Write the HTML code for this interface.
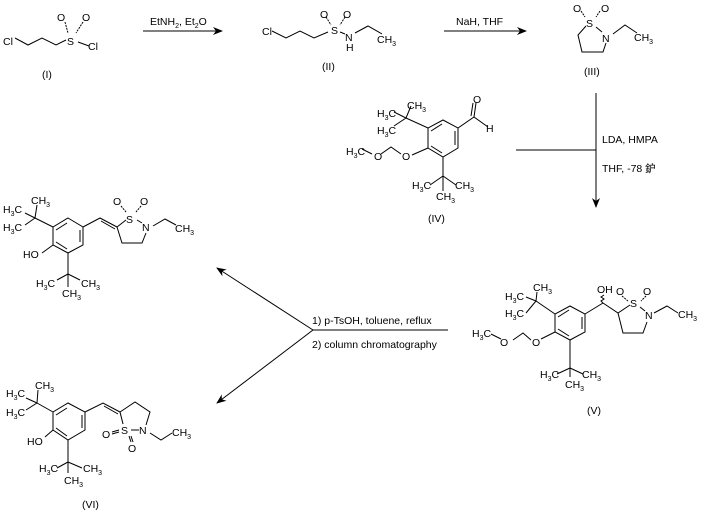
<!DOCTYPE html>
<html><head><meta charset="utf-8"><style>
html,body{margin:0;padding:0;background:#fff;width:701px;height:514px;overflow:hidden}
svg{display:block}
text{font-family:"Liberation Sans","Noto Sans CJK SC",sans-serif;font-size:10.5px;fill:#000}
.s{font-size:7px}
</style></head><body>
<svg width="701" height="514" viewBox="0 0 701 514" xmlns="http://www.w3.org/2000/svg">
<defs><marker id="ah" markerWidth="10" markerHeight="8" refX="9" refY="4" orient="auto" markerUnits="userSpaceOnUse"><path d="M0,0 L10,4 L0,8 L3,4 Z" fill="#000"/></marker></defs>
<g stroke="#000" stroke-width="1" fill="none">
<!-- I -->
<polyline points="15,38 28,45 42,38 56,45 66,40"/>
<line x1="65" y1="22" x2="68" y2="33" stroke-dasharray="2,1"/><line x1="83" y1="22" x2="76" y2="33" stroke-dasharray="2,1"/>
<line x1="78" y1="42" x2="89" y2="46"/>
<!-- arrow 1 -->
<line x1="143" y1="31" x2="222" y2="31" marker-end="url(#ah)"/>
<!-- II -->
<polyline points="272,31 286,38 300,31 314,38 328,32"/>
<line x1="326" y1="17" x2="331" y2="25" stroke-dasharray="2,1"/><line x1="345" y1="17" x2="340" y2="25" stroke-dasharray="2,1"/>
<line x1="340" y1="32" x2="345" y2="34"/>
<polyline points="355,33 368,26 382,34"/>
<!-- arrow 2 -->
<line x1="444" y1="31" x2="526" y2="31" marker-end="url(#ah)"/>
<!-- III -->
<line x1="581" y1="11" x2="585" y2="17" stroke-dasharray="2,1"/><line x1="600" y1="11" x2="596" y2="17" stroke-dasharray="2,1"/>
<polyline points="586,26 578,35 582,52 603,52 606,43"/>
<line x1="596" y1="27" x2="602" y2="32"/>
<polyline points="613,34 625,25 637,33"/>
<!-- LDA arrow -->
<line x1="596" y1="93" x2="596" y2="207" marker-end="url(#ah)"/>
<line x1="516" y1="150" x2="596" y2="150"/>
<!-- IV -->
<polygon points="443,120 458,128 458,148 443,157 428,148 428,128"/>
<line x1="431" y1="131" x2="442" y2="124"/><line x1="431" y1="146" x2="442" y2="153"/><line x1="455" y1="131" x2="455" y2="145"/>
<polyline points="458,128 474,117 488,127"/><line x1="474" y1="117" x2="476" y2="103"/><line x1="471" y1="116" x2="473" y2="103"/>
<line x1="428" y1="128" x2="406" y2="118"/><line x1="406" y1="118" x2="411" y2="106"/><line x1="406" y1="118" x2="394" y2="112"/><line x1="406" y1="118" x2="394" y2="126"/>
<line x1="443" y1="157" x2="443" y2="176"/><line x1="443" y1="176" x2="430" y2="185"/><line x1="443" y1="176" x2="456" y2="185"/><line x1="443" y1="176" x2="443" y2="191"/>
<line x1="428" y1="148" x2="412" y2="155"/><polyline points="401,154 391,147 381,154"/><line x1="372" y1="154" x2="362" y2="149"/>
<!-- V -->
<polygon points="570,306 585,314 585,332 570,340 555,332 555,314"/>
<line x1="558" y1="317" x2="569" y2="310"/><line x1="558" y1="329" x2="569" y2="336"/><line x1="582" y1="317" x2="582" y2="329"/>
<line x1="585" y1="314" x2="603" y2="303"/><path d="M603,303 l-2,-2 3,-2 -3,-2 3,-2" />
<polyline points="603,303 618,313 630,305"/><polyline points="618,313 623,333 643,333 647,322"/>
<line x1="640" y1="307" x2="645" y2="311"/>
<line x1="622" y1="296" x2="628" y2="301" stroke-dasharray="2,1"/><line x1="646" y1="296" x2="641" y2="301" stroke-dasharray="2,1"/>
<polyline points="654,313 667,306 678,313"/>
<line x1="555" y1="314" x2="536" y2="301"/><line x1="536" y1="301" x2="537" y2="292"/><line x1="536" y1="301" x2="526" y2="297"/><line x1="536" y1="301" x2="526" y2="313"/>
<line x1="570" y1="340" x2="570" y2="368"/><line x1="570" y1="368" x2="557" y2="374"/><line x1="570" y1="368" x2="583" y2="374"/><line x1="570" y1="368" x2="570" y2="377"/>
<line x1="555" y1="332" x2="541" y2="339"/><polyline points="531,340 523,333 513,340"/><line x1="501" y1="339" x2="491" y2="334"/>
<!-- mid arrows -->
<line x1="448" y1="330" x2="313" y2="330"/>
<line x1="313" y1="330" x2="217" y2="268" marker-end="url(#ah)"/>
<line x1="313" y1="330" x2="217" y2="403" marker-end="url(#ah)"/>
<!-- VI top -->
<polygon points="68,218 83,227 83,245 68,253 53,245 53,227"/>
<line x1="56" y1="230" x2="67" y2="223"/><line x1="56" y1="242" x2="67" y2="249"/><line x1="80" y1="230" x2="80" y2="242"/>
<polyline points="83,227 100,218 117,227"/><line x1="101" y1="221" x2="115" y2="229"/>
<line x1="117" y1="227" x2="126" y2="220"/><polyline points="117,227 122,243 142,243 146,233"/>
<line x1="137" y1="220" x2="142" y2="223"/>
<line x1="121" y1="206" x2="126" y2="212" stroke-dasharray="2,1"/><line x1="141" y1="206" x2="136" y2="212" stroke-dasharray="2,1"/>
<polyline points="153,226 165,219 176,225"/>
<line x1="53" y1="227" x2="35" y2="218"/><line x1="35" y1="218" x2="37" y2="205"/><line x1="35" y1="218" x2="25" y2="213"/><line x1="35" y1="218" x2="25" y2="225"/>
<line x1="53" y1="245" x2="42" y2="253"/>
<line x1="68" y1="253" x2="68" y2="274"/><line x1="68" y1="274" x2="57" y2="280"/><line x1="68" y1="274" x2="80" y2="280"/><line x1="68" y1="274" x2="68" y2="287"/>
<!-- VI bottom -->
<polygon points="68,403 85,412 85,430 68,440 53,430 53,412"/>
<line x1="56" y1="415" x2="67" y2="408"/><line x1="56" y1="428" x2="67" y2="436"/><line x1="82" y1="415" x2="82" y2="428"/>
<polyline points="85,412 103,403 120,412"/><line x1="104" y1="406" x2="118" y2="414"/>
<polyline points="120,412 135,402 150,412 146,425"/><line x1="120" y1="412" x2="123" y2="424"/>
<line x1="131" y1="430" x2="139" y2="430"/>
<line x1="112" y1="432" x2="119" y2="430"/><line x1="112" y1="434" x2="119" y2="432"/>
<line x1="129" y1="436" x2="131" y2="442"/><line x1="131" y1="436" x2="133" y2="442"/>
<polyline points="150,433 161,440 172,433"/>
<line x1="53" y1="412" x2="37" y2="403"/><line x1="37" y1="403" x2="38" y2="390"/><line x1="37" y1="403" x2="26" y2="398"/><line x1="37" y1="403" x2="26" y2="410"/>
<line x1="53" y1="430" x2="45" y2="437"/>
<line x1="68" y1="440" x2="68" y2="462"/><line x1="68" y1="462" x2="57" y2="468"/><line x1="68" y1="462" x2="82" y2="468"/><line x1="68" y1="462" x2="68" y2="473"/>
</g>
<!-- text -->
<text x="3" y="45">Cl</text><text x="57" y="21">O</text><text x="82" y="21">O</text><text x="67" y="45">S</text><text x="88" y="50">Cl</text>
<text x="42" y="78">(I)</text>
<text x="150" y="25">EtNH<tspan class="s" dy="3">2</tspan><tspan dy="-3">, Et</tspan><tspan class="s" dy="3">2</tspan><tspan dy="-3">O</tspan></text>
<text x="262" y="35">Cl</text><text x="320" y="18">O</text><text x="343" y="18">O</text><text x="331" y="34">S</text><text x="345" y="41">N</text><text x="346" y="51">H</text>
<text x="377" y="43">CH<tspan class="s" dy="3">3</tspan></text>
<text x="322" y="70">(II)</text>
<text x="456" y="25">NaH, THF</text>
<text x="573" y="12">O</text><text x="601" y="12">O</text><text x="586" y="27">S</text><text x="602" y="42">N</text>
<text x="634" y="41">CH<tspan class="s" dy="3">3</tspan></text>
<text x="584" y="75">(III)</text>
<text x="602" y="143">LDA, HMPA</text>
<text x="602" y="172">THF, -78 鈩</text>
<text x="473" y="103">O</text><text x="486" y="132">H</text>
<text x="407" y="109">CH<tspan class="s" dy="3">3</tspan></text>
<text x="377" y="117">H<tspan class="s" dy="3">3</tspan><tspan dy="-3">C</tspan></text>
<text x="377" y="134">H<tspan class="s" dy="3">3</tspan><tspan dy="-3">C</tspan></text>
<text x="402" y="160">O</text><text x="374" y="160">O</text>
<text x="346" y="155">H<tspan class="s" dy="3">3</tspan><tspan dy="-3">C</tspan></text>
<text x="412" y="189">H<tspan class="s" dy="3">3</tspan><tspan dy="-3">C</tspan></text>
<text x="455" y="189">CH<tspan class="s" dy="3">3</tspan></text>
<text x="436" y="200">CH<tspan class="s" dy="3">3</tspan></text>
<text x="428" y="222">(IV)</text>
<text x="597" y="293">OH</text><text x="616" y="295">O</text><text x="643" y="295">O</text><text x="630" y="307">S</text><text x="645" y="319">N</text>
<text x="678" y="318">CH<tspan class="s" dy="3">3</tspan></text>
<text x="533" y="291">CH<tspan class="s" dy="3">3</tspan></text>
<text x="505" y="300">H<tspan class="s" dy="3">3</tspan><tspan dy="-3">C</tspan></text>
<text x="505" y="317">H<tspan class="s" dy="3">3</tspan><tspan dy="-3">C</tspan></text>
<text x="532" y="346">O</text><text x="500" y="346">O</text>
<text x="472" y="337">H<tspan class="s" dy="3">3</tspan><tspan dy="-3">C</tspan></text>
<text x="540" y="378">H<tspan class="s" dy="3">3</tspan><tspan dy="-3">C</tspan></text>
<text x="582" y="378">CH<tspan class="s" dy="3">3</tspan></text>
<text x="565" y="388">CH<tspan class="s" dy="3">3</tspan></text>
<text x="587" y="414">(V)</text>
<text x="312" y="324">1) p-TsOH, toluene, reflux</text>
<text x="312" y="348">2) column chromatography</text>
<!-- VI top -->
<text x="113" y="205">O</text><text x="140" y="205">O</text><text x="126" y="223">S</text><text x="142" y="231">N</text>
<text x="175" y="232">CH<tspan class="s" dy="3">3</tspan></text>
<text x="31" y="204">CH<tspan class="s" dy="3">3</tspan></text>
<text x="3" y="213">H<tspan class="s" dy="3">3</tspan><tspan dy="-3">C</tspan></text>
<text x="3" y="231">H<tspan class="s" dy="3">3</tspan><tspan dy="-3">C</tspan></text>
<text x="23" y="258">HO</text>
<text x="36" y="287">H<tspan class="s" dy="3">3</tspan><tspan dy="-3">C</tspan></text>
<text x="81" y="287">CH<tspan class="s" dy="3">3</tspan></text>
<text x="62" y="297">CH<tspan class="s" dy="3">3</tspan></text>
<!-- VI bottom -->
<text x="121" y="434">S</text><text x="139" y="434">N</text><text x="102" y="438">O</text><text x="128" y="452">O</text>
<text x="172" y="436">CH<tspan class="s" dy="3">3</tspan></text>
<text x="35" y="389">CH<tspan class="s" dy="3">3</tspan></text>
<text x="6" y="397">H<tspan class="s" dy="3">3</tspan><tspan dy="-3">C</tspan></text>
<text x="6" y="416">H<tspan class="s" dy="3">3</tspan><tspan dy="-3">C</tspan></text>
<text x="27" y="445">HO</text>
<text x="39" y="472">H<tspan class="s" dy="3">3</tspan><tspan dy="-3">C</tspan></text>
<text x="83" y="472">CH<tspan class="s" dy="3">3</tspan></text>
<text x="64" y="484">CH<tspan class="s" dy="3">3</tspan></text>
<text x="82" y="508">(VI)</text>
</svg>
</body></html>
